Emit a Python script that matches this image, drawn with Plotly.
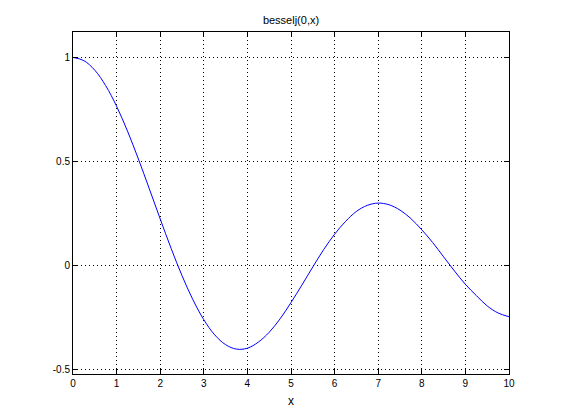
import plotly.graph_objects as go

# values
x_vals = [0, 0.25, 0.5, 0.75, 1, 1.25, 1.5, 1.75, 2, 2.25, 2.5, 2.75, 3,
          3.25, 3.5, 3.75, 4, 4.25, 4.5, 4.75, 5, 5.25, 5.5, 5.75, 6,
          6.25, 6.5, 6.75, 7, 7.25, 7.5, 7.75, 8, 8.25, 8.5, 8.75, 9,
          9.25, 9.5, 9.75, 10]
y_vals = [1.0, 0.9844, 0.9385, 0.8642, 0.7652, 0.6459, 0.5118, 0.3690,
          0.2239, 0.0827, -0.0484, -0.1641, -0.2601, -0.3330, -0.3801,
          -0.4015, -0.3971, -0.3680, -0.3205, -0.2559, -0.1776, -0.0937,
          -0.0068, 0.0768, 0.1506, 0.2118, 0.2601, 0.2892, 0.3001, 0.2920,
          0.2663, 0.2257, 0.1717, 0.1104, 0.0419, -0.0262, -0.0903,
          -0.1440, -0.1939, -0.2279, -0.2459]

x_ticks = [0, 1, 2, 3, 4, 5, 6, 7, 8, 9, 10]
y_ticks = [-0.5, 0, 0.5, 1]
y_tick_labels = ["-0.5", "0", "0.5", "1"]

fig = go.Figure(go.Scatter(
    x=x_vals, y=y_vals, mode="lines", line_shape="spline",
    line=dict(color="#0000ff", width=1), showlegend=False,
))

axis_style = dict(
    showline=True, linecolor="black", linewidth=1, mirror="ticks",
    ticks="inside", ticklen=5, tickcolor="black",
    showgrid=True, gridcolor="black", griddash="1px,3px", gridwidth=1,
    zeroline=False,
)

# page body has an 8px margin, so the figure is a bit smaller than the window
fig.update_layout(
    width=554, height=412,
    margin=dict(l=65, r=53, t=24, b=46),
    paper_bgcolor="white", plot_bgcolor="white",
    font=dict(family="Liberation Sans, Arial, sans-serif", size=10, color="black"),
    title=dict(text="besselj(0,x)", x=0.5, xref="paper", xanchor="center",
               y=1 - 12 / 412, yref="container", yanchor="middle",
               font=dict(size=11)),
    xaxis=dict(range=[0, 10], tickvals=x_ticks,
               title=dict(text="x", standoff=8), **axis_style),
    yaxis=dict(range=[-0.521, 1.122], tickvals=y_ticks, ticktext=y_tick_labels,
               **axis_style),
)

fig.write_html("out.html")
